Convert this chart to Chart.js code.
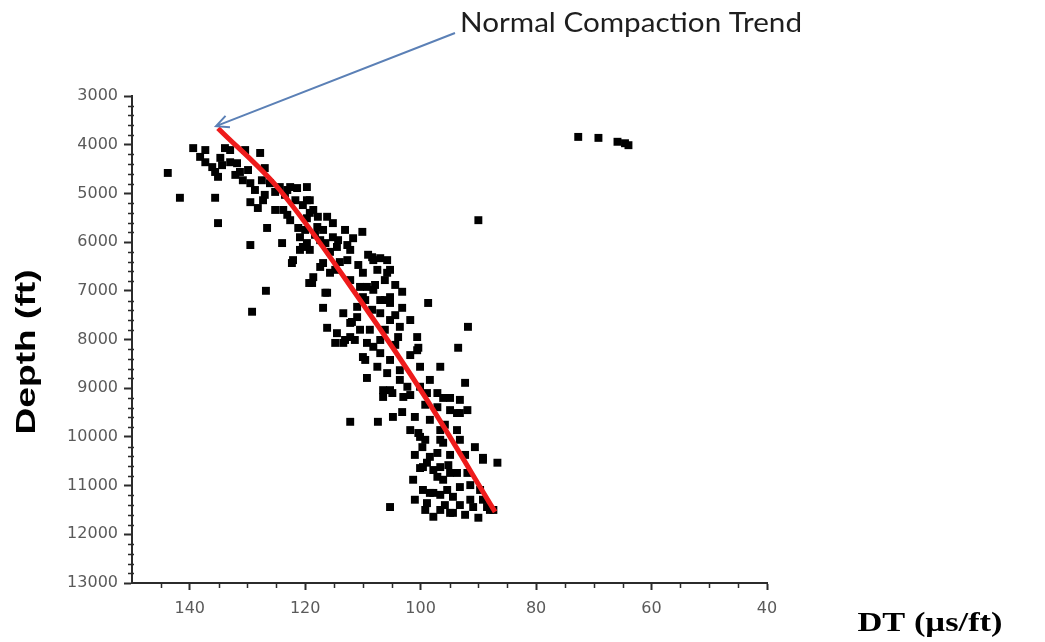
<!DOCTYPE html>
<html>
<head>
<meta charset="utf-8">
<script src="https://cdn.jsdelivr.net/npm/chart.js@4.4.0/dist/chart.umd.min.js"></script>
<style>
  html, body { margin: 0; padding: 0; background: #fff; }
  #wrap { width: 1045px; height: 642px; }
</style>
</head>
<body>
<div id="wrap"><canvas id="dtChart" width="1045" height="642"></canvas></div>
<script>
const dtValues = [
  143.8, 141.7, 135.6, 135.1, 139.4, 138.2, 137.3, 136.1, 135.6, 135.1,
  134.7, 133.0, 133.0, 131.3, 130.8, 129.5, 129.5, 128.2, 127.3, 126.6,
  129.5, 124.0, 127.8, 127.0, 126.1, 124.4, 123.1, 121.4, 119.7, 123.8,
  123.1, 120.4, 119.2, 118.6, 117.8, 119.7, 117.9, 116.9, 120.9, 120.4,
  122.1, 117.4, 130.4, 131.8, 122.3, 126.8, 129.2, 119.3, 116.5, 116.9,
  113.4, 90.0, 98.7, 91.8, 93.5, 92.3, 109.3, 116.2, 114.8, 113.4,
  112.2, 111.0, 110.0, 110.5, 108.2, 107.0, 105.3, 103.2, 103.2, 103.6,
  103.9, 105.3, 107.0, 108.2, 105.8, 107.5, 105.3, 106.2, 110.0, 112.7,
  110.1, 111.7, 112.7, 114.5, 115.7, 116.9, 118.6, 120.9, 119.7, 119.2,
  116.2, 115.2, 122.6, 119.7, 115.2, 108.8, 109.3, 108.2, 107.0, 109.6,
  107.5, 105.8, 105.3, 102.3, 100.6, 100.1, 98.4, 97.1, 96.6, 100.6,
  100.4, 107.0, 105.8, 108.4, 109.3, 105.3, 116.2, 113.1, 111.9, 111.0,
  112.2, 115.7, 118.8, 119.2, 117.4, 110.0, 103.6, 98.9, 89.2, 86.7,
  90.6, 91.9, 93.7, 94.9, 112.2, 107.4, 104.8, 103.2, 106.5, 114.5,
  112.2, 101.0, 100.4, 99.7, 98.4, 96.6, 93.7, 93.2, 101.3, 99.6,
  97.1, 98.4, 95.4, 96.6, 94.4, 105.3, 91.4, 89.2, 88.0, 98.9,
  94.9, 91.9, 104.9, 103.0, 100.1, 97.1, 98.9, 100.1, 99.6, 97.8,
  97.8, 94.4, 93.2, 90.9, 88.5, 87.4, 89.2, 93.2, 94.9, 93.2,
  96.1, 97.1, 96.6, 96.1, 100.1, 106.5, 96.6, 96.1, 93.7, 94.9,
  72.7, 69.2, 65.9, 64.6, 64.0, 133.9,
  137.3, 134.4, 132.1, 129.9, 128.7, 127.5, 125.2, 123.5, 121.7, 127.0,
  125.2, 122.6, 121.2, 120.0, 118.3, 116.5, 114.3, 113.1, 112.2, 114.0,
  114.8, 110.8, 109.1, 107.9, 104.4, 109.6, 108.4, 106.2, 104.4, 110.5,
  111.4, 106.2, 107.0, 104.4, 101.8, 101.8, 105.3, 103.6, 101.8, 99.2,
  98.4, 95.8, 101.8, 99.2, 94.9, 92.3, 101.0, 97.8, 95.2, 91.4,
  92.3, 95.8, 99.2, 101.0, 93.2, 89.7, 96.6, 90.0
];
const depthValues = [
  4580, 5090, 5090, 5610, 4070, 4250, 4360, 4460, 4560, 4660,
  4270, 4360, 4110, 4560, 4730, 4790, 5180, 5300, 5140, 5710,
  6060, 6020, 4170, 4480, 4790, 4870, 4930, 4890, 4870, 5340,
  5440, 5240, 5140, 5340, 5480, 5510, 5690, 5750, 5900, 6100,
  6370, 5960, 4110, 4380, 6430, 7000, 7430, 6840, 7040, 7350,
  7460, 5550, 7250, 7740, 8170, 8890, 8790, 7760, 8070, 8070,
  7660, 7540, 7130, 6920, 6980, 7190, 7130, 7020, 7350, 7740,
  7950, 7600, 7460, 6370, 6370, 6570, 6570, 6780, 6630, 6370,
  5790, 5920, 6060, 6100, 6200, 6430, 6720, 6160, 6020, 5400,
  5480, 5610, 4870, 5140, 5900, 7800, 8070, 8150, 8280, 8420,
  8560, 8690, 9040, 8970, 8220, 8560, 8830, 9100, 8560, 7950,
  8170, 6330, 6630, 6310, 6920, 7250, 7040, 8010, 7640, 7330,
  6780, 6630, 6840, 6160, 6510, 8360, 8630, 9100, 10470, 10530,
  10210, 9450, 9510, 9200, 9690, 9690, 9590, 9490, 9180, 7870,
  7950, 9590, 9920, 10210, 10410, 10060, 9860, 10060, 10880, 10620,
  10820, 11150, 11090, 11500, 11560, 11440, 11290, 11290, 11500, 11360,
  10740, 10740, 9100, 9180, 10000, 10330, 10530, 10640, 11090, 11150,
  11640, 11230, 11030, 11440, 11440, 11500, 10430, 9510, 9450, 9240,
  9200, 9390, 9860, 10120, 8970, 9040, 10620, 10880, 10740, 11560,
  3840, 3860, 3940, 3970, 4010, 4070,
  4110, 4420, 4620, 4520, 4930, 4730, 4970, 5030, 5140, 5030,
  5340, 5550, 5710, 5750, 5850, 6020, 5960, 5750, 6160, 6410,
  6570, 6470, 6260, 6880, 6880, 7190, 7390, 7190, 7500, 7800,
  8010, 7800, 8010, 8110, 7600, 8320, 8420, 8830, 9140, 9340,
  9650, 9750, 9860, 10060, 10370, 10370, 10370, 10680, 10580, 10990,
  11600, 11400, 11500, 11290, 11400, 11090, 11190, 11660
];

// normal compaction trend line
const trendDT = [135.1, 124.4, 110.5, 98.9, 87.1];
const trendDepth = [3660, 4930, 7190, 9240, 11540];

// tick labels
const depthTicks = [3000, 4000, 5000, 6000, 7000, 8000, 9000, 10000, 11000, 12000, 13000];
const dtTicks = [140, 120, 100, 80, 60, 40];

const axisColor = '#2b2b2b';
const labelColor = '#5a5a5a';

// draw text stretched to a given length (the source picture is stretched)
function stretchedText(ctx, text, font, cx, cy, len, rotated) {
  ctx.save();
  ctx.font = font;
  const w = ctx.measureText(text).width;
  ctx.translate(cx, cy);
  if (rotated) ctx.rotate(-Math.PI / 2);
  ctx.scale(len / w, 1);
  ctx.textAlign = 'center';
  ctx.textBaseline = 'middle';
  ctx.fillText(text, 0, 0);
  ctx.restore();
}

const decorations = {
  id: 'decorations',
  afterDraw(chart) {
    const { ctx, chartArea } = chart;
    const x = chart.scales.x;
    const y = chart.scales.y;
    ctx.save();

    // minor ticks
    ctx.strokeStyle = axisColor;
    ctx.lineWidth = 1.5;
    ctx.beginPath();
    for (let v = 3200; v < 13000; v += 200) {
      if (v % 1000 === 0) continue;
      const py = Math.round(y.getPixelForValue(v)) + 0.5;
      ctx.moveTo(chartArea.left - 4, py);
      ctx.lineTo(chartArea.left + 2, py);
    }
    for (let v = 45; v < 150; v += 5) {
      if (v % 20 === 0) continue;
      const px = Math.round(x.getPixelForValue(v)) + 0.5;
      ctx.moveTo(px, chartArea.bottom - 1);
      ctx.lineTo(px, chartArea.bottom + 5);
    }
    ctx.stroke();

    // arrow to the top of the trend line
    const tipX = x.getPixelForValue(trendDT[0]) - 2;
    const tipY = y.getPixelForValue(trendDepth[0]) - 2;
    const tailX = 455, tailY = 33;
    const ang = Math.atan2(tipY - tailY, tipX - tailX);
    ctx.strokeStyle = '#5b80b6';
    ctx.lineWidth = 2;
    ctx.beginPath();
    ctx.moveTo(tailX, tailY);
    ctx.lineTo(tipX, tipY);
    ctx.moveTo(tipX - 14 * Math.cos(ang - 0.45), tipY - 14 * Math.sin(ang - 0.45));
    ctx.lineTo(tipX, tipY);
    ctx.lineTo(tipX - 14 * Math.cos(ang + 0.45), tipY - 14 * Math.sin(ang + 0.45));
    ctx.stroke();

    // annotation and axis titles
    ctx.fillStyle = '#1e1e1e';
    stretchedText(ctx, 'Normal Compaction Trend', '26px Lato', 631, 24, 342, false);
    ctx.fillStyle = '#000';
    stretchedText(ctx, 'Depth (ft)', 'bold 27px "Liberation Sans"', 28, 352, 165, true);
    stretchedText(ctx, 'DT (µs/ft)', 'bold 27px "Liberation Serif"', 930, 624, 145, false);
    ctx.restore();
  }
};

const ctx = document.getElementById('dtChart').getContext('2d');
new Chart(ctx, {
  data: {
    datasets: [
      {
        type: 'line',
        label: 'Normal Compaction Trend',
        data: trendDT.map((v, i) => ({ x: v, y: trendDepth[i] })),
        borderColor: '#ee1b1b',
        borderWidth: 5,
        pointRadius: 0,
        tension: 0.35,
        fill: false,
        order: 0
      },
      {
        type: 'scatter',
        label: 'DT',
        data: dtValues.map((v, i) => ({ x: v, y: depthValues[i] })),
        pointStyle: 'rect',
        pointRadius: 5.6,
        backgroundColor: '#000',
        borderWidth: 0,
        order: 1
      }
    ]
  },
  options: {
    responsive: false,
    animation: false,
    layout: { padding: { left: 52, right: 278, top: 96, bottom: 19 } },
    plugins: {
      legend: { display: false },
      tooltip: { enabled: false }
    },
    scales: {
      x: {
        type: 'linear',
        reverse: true,
        min: 40,
        max: 150,
        afterFit: s => { s.height = 40; },
        afterBuildTicks: s => { s.ticks = dtTicks.map(v => ({ value: v })); },
        grid: { drawOnChartArea: false, drawTicks: true, tickLength: 7, tickColor: axisColor, tickWidth: 2 },
        border: { display: true, color: axisColor, width: 2 },
        ticks: {
          color: labelColor,
          font: { family: 'DejaVu Sans', size: 16 },
          padding: 9,
          callback: v => String(v)
        }
      },
      y: {
        type: 'linear',
        reverse: true,
        min: 3000,
        max: 13000,
        afterFit: s => { s.width = 80; },
        afterBuildTicks: s => { s.ticks = depthTicks.map(v => ({ value: v })); },
        grid: { drawOnChartArea: false, drawTicks: true, tickLength: 8, tickColor: axisColor, tickWidth: 2 },
        border: { display: true, color: axisColor, width: 2 },
        ticks: {
          color: labelColor,
          font: { family: 'DejaVu Sans', size: 16 },
          padding: 6,
          callback: v => String(v)
        }
      }
    }
  },
  plugins: [decorations]
});
</script>
</body>
</html>
